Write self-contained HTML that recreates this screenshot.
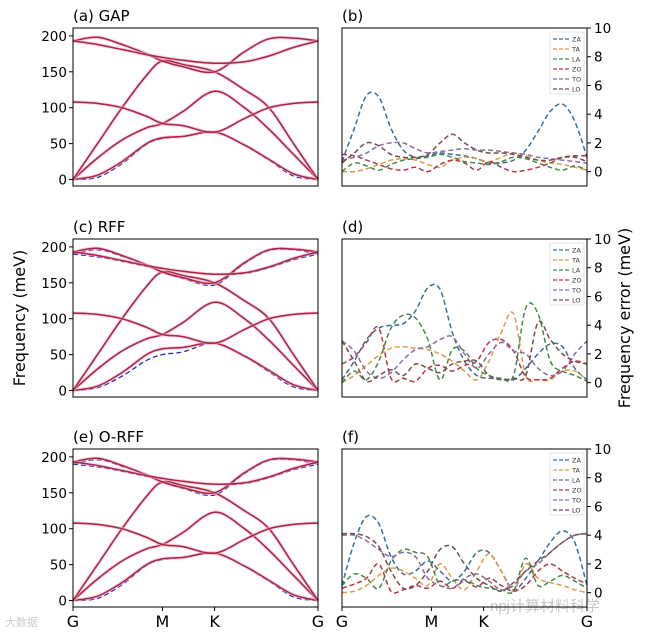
<!DOCTYPE html>
<html><head><meta charset="utf-8">
<style>
html,body{margin:0;padding:0;background:#fff;}
svg{display:block;font-family:"DejaVu Sans","Liberation Sans",sans-serif;}
</style></head>
<body>
<svg id="fig" width="647" height="635" viewBox="0 0 647 635" xmlns="http://www.w3.org/2000/svg">
<text x="25" y="318" font-size="16" text-anchor="middle" transform="rotate(-90 25 318)">Frequency (meV)</text>
<text x="630" y="318" font-size="16" text-anchor="middle" transform="rotate(-90 630 318)">Frequency error (meV)</text>
<text x="490" y="611" font-size="15" fill="#bbb" opacity="0.8" font-family="Liberation Sans, Noto Sans CJK SC, sans-serif">npj计算材料科学</text>
<text x="5" y="626" font-size="11" fill="#ccc" font-family="Liberation Sans, Noto Sans CJK SC, sans-serif">大数据</text>
</svg>
<script>
// ---------- data ----------
const pathLabels = ["G","M","K","G"];
const pathTicks = [0, 0.365, 0.578, 1];
const bandT = [0,0.1,0.2,0.3,0.365,0.45,0.578,0.7,0.8,0.9,1];
const bandZA = [0,6,25,50,58,60,66,48,28,8,0];
const bandTA = [0,30,55,72,78,95,123,100,70,35,0];
const bandLA = [0,50,100,145,165,160,150,125,100,50,0];
const bandZO = [108,106,100,88,78,75,66,85,100,106,108];
const bandTO = [193,198,188,175,165,157,150,178,196,197,193];
const bandLO = [193,188,181,174,170,166,162,164,172,184,193];
const refZA = [0,3,22,49,57,60,66,48,27,5,0];
const refZA_c = [0,4,20,42,50,54,66,48,26,5,0];
const refTO_c = [190,196,187,175,165,156,147,177,195,196,190];
const refLO_c = [190,186,180,173,170,166,162,163,171,182,190];
const freqTicks = [0,50,100,150,200];
const errTicks = [0,2,4,6,8,10];
const errT = [0,0.05,0.1,0.15,0.2,0.25,0.3,0.35,0.4,0.45,0.5,0.55,0.6,0.65,0.7,0.75,0.8,0.85,0.9,0.95,1];
const modes = ["ZA","TA","LA","ZO","TO","LO"];
const bErrZA = [0.7,3,5.3,5.2,3,1.5,1.0,1.1,1.3,1.2,1.1,0.9,0.6,0.6,0.8,1.5,2.8,4.2,4.7,3.5,1.0];
const bErrTA = [0,0,0.2,0.5,0.8,0.9,0.8,0.5,0.3,0.8,1.0,0.9,0.7,1.0,1.3,1.1,0.8,0.6,0.5,0.3,0.1];
const bErrLA = [0,0.6,0.4,0.1,0.5,0.8,0.9,1.0,1.2,1.0,0.7,0.6,0.5,0.7,1.0,0.9,0.6,0.3,0.1,0.4,0.1];
const bErrZO = [1.2,1.1,0.8,0.5,0.2,0.1,0.3,0.0,0.5,0.8,0.6,0.1,0.7,0.3,0.0,0.1,0.3,0.6,1.0,1.1,1.1];
const bErrTO = [0.8,1.0,1.3,1.8,2.0,2.0,1.6,1.3,1.4,1.5,1.6,1.5,1.5,1.4,1.3,1.2,1.0,0.9,0.8,0.7,0.6];
const bErrLO = [0.6,1.3,2.0,1.8,1.2,1.0,1.0,1.2,2.0,2.6,2.0,1.5,1.3,1.3,1.2,1.0,0.8,0.8,1.0,1.0,0.7];
const dErrZA = [0.2,1.5,3.0,3.8,4.0,4.1,5.0,6.6,6.5,3.5,1.5,0.5,0.3,0.3,0.2,1.0,2.0,2.7,2.5,1.0,0.2];
const dErrTA = [0,0.5,1.2,1.9,2.4,2.5,2.4,2.3,2.0,1.5,0.8,0.2,1.5,3.5,4.8,0.5,0.2,0.2,0.8,0.8,0.2];
const dErrLA = [0,0.8,0.2,1.5,3.8,4.7,4.5,3.0,0.2,2.3,2.2,1.0,0.5,0.3,0.5,5.2,4.8,1.5,0.8,0.5,0.1];
const dErrZO = [1.3,1.8,2.8,3.8,0.3,0.3,0.1,1.0,1.2,0.8,1.2,1.5,2.8,3.0,2.2,0.4,0.2,0.3,1.0,1.5,1.3];
const dErrTO = [2.9,2.2,0.8,0.3,0.7,1.6,2.3,2.5,3.0,3.2,2.0,1.0,2.0,2.8,2.2,2.0,1.0,0.5,0.8,2.0,2.9];
const dErrLO = [2.9,1.5,0.1,0.5,0.9,0.5,1.3,1.0,0.7,1.3,1.5,1.5,0.5,0.2,0.3,0.5,4.2,3.0,2.0,1.5,1.3];
const fErrZA = [0.5,3.5,5.3,4.8,2.5,1.3,1.5,2.2,1.5,0.8,1.5,2.8,2.8,1.5,0.2,1.0,2.2,3.5,4.3,3.5,0.5];
const fErrTA = [0,0.1,0.5,1.2,1.7,1.5,1.0,0.5,2.0,1.0,0.2,1.5,2.7,1.5,0.1,2.0,1.0,0.7,0.5,0.2,0];
const fErrLA = [0.5,1.3,1.0,0.3,2.2,3.0,2.8,2.5,0.5,0.8,0.9,0.5,0.3,0.2,0.1,2.4,0.5,0.8,1.2,0.8,0.3];
const fErrZO = [0.3,0.6,1.0,2.0,0.1,0.2,0.5,0.3,0.8,0.3,0.8,0.4,1.0,0.5,0.1,0.5,1.5,2.0,1.5,1.0,0.6];
const fErrTO = [4.0,4.0,3.6,3.0,2.5,2.8,2.5,1.0,0.5,0.3,1.0,1.3,0.8,0.2,0.5,1.5,2.0,2.8,3.5,4.0,4.1];
const fErrLO = [4.1,4.1,3.9,3.2,1.5,0.3,0.5,1.5,3.0,3.2,2.0,1.0,0.5,0.1,0.7,1.5,2.2,2.8,3.5,4.0,4.1];
const modeColors = ["#3a6e93","#e09a48","#47874a","#ad3a48","#8a6da3","#74504a"];

// ---------- drawing ----------
const NS = "http://www.w3.org/2000/svg";
const svg = document.getElementById("fig");
function mk(tag, attrs, parent){ const e=document.createElementNS(NS,tag); for(const k in attrs) e.setAttribute(k,attrs[k]); (parent||svg).appendChild(e); return e; }
function smoothPath(pts){
  let d="M"+pts[0][0].toFixed(1)+","+pts[0][1].toFixed(1);
  for(let i=0;i<pts.length-1;i++){
    const p0=pts[Math.max(0,i-1)],p1=pts[i],p2=pts[i+1],p3=pts[Math.min(pts.length-1,i+2)];
    const c1=[p1[0]+(p2[0]-p0[0])/6,p1[1]+(p2[1]-p0[1])/6];
    const c2=[p2[0]-(p3[0]-p1[0])/6,p2[1]-(p3[1]-p1[1])/6];
    d+="C"+c1[0].toFixed(1)+","+c1[1].toFixed(1)+" "+c2[0].toFixed(1)+","+c2[1].toFixed(1)+" "+p2[0].toFixed(1)+","+p2[1].toFixed(1);
  }
  return d;
}
const rowTops=[28,239,449];
const panelH=158;
const L={x0:73,x1:318}, R={x0:342,x1:587};
const letters=[["(a) GAP","(b)"],["(c) RFF","(d)"],["(e) O-RFF","(f)"]];
const errSets=[[bErrZA,bErrTA,bErrLA,bErrZO,bErrTO,bErrLO],[dErrZA,dErrTA,dErrLA,dErrZO,dErrTO,dErrLO],[fErrZA,fErrTA,fErrLA,fErrZO,fErrTO,fErrLO]];
const predBands=[bandZA,bandTA,bandLA,bandZO,bandTO,bandLO];

rowTops.forEach((top,ri)=>{
  const bot=top+panelH;
  const fy=v=> top + (211 - v)/220*panelH;
  const lx=t=> L.x0 + t*(L.x1-L.x0);
  const g=mk("g",{});
  
  
  const refs=[ri===1?refZA_c:refZA,bandTA,bandLA,bandZO,ri===0?bandTO:refTO_c,ri===0?bandLO:refLO_c];
  refs.forEach((arr,bi)=>{
    const p=mk("path",{d:smoothPath(bandT.map((t,i)=>[lx(t),fy(arr[i])])),fill:"none",stroke:"#2a2ab0","stroke-width":1.3,"stroke-dasharray":"5,3"},g);
    
    
  });
  predBands.forEach((arr,bi)=>{
    const d=smoothPath(bandT.map((t,i)=>[lx(t),fy(arr[i])]));
    mk("path",{d:d,fill:"none",stroke:"#f4b0c0","stroke-width":3.5,opacity:0.55},g);
    const p=mk("path",{d:d,fill:"none",stroke:"#a82448","stroke-width":1.5},g);
    
    
  });
  const fr=mk("rect",{x:L.x0,y:top,width:L.x1-L.x0,height:panelH,fill:"none",stroke:"#000","stroke-width":1});
  
  
  freqTicks.forEach(v=>{
    mk("line",{x1:L.x0-4,x2:L.x0,y1:fy(v),y2:fy(v),stroke:"#000"});
    const t=mk("text",{x:L.x0-6,y:fy(v)+5,"font-size":13.5,"text-anchor":"end"}); t.textContent=v;
    
    
  });
  const ttl=mk("text",{x:L.x0,y:top-7,"font-size":15}); ttl.textContent=letters[ri][0];
  
  

  const ey=v=> top + (10 - v)/11*panelH;
  const rx=t=> R.x0 + t*(R.x1-R.x0);
  errSets[ri].forEach((arr,mi)=>{
    const p=mk("path",{d:smoothPath(errT.map((t,i)=>[rx(t),ey(arr[i])])),fill:"none",stroke:modeColors[mi],"stroke-width":1.5,"stroke-dasharray":"5,3"});
    
    
  });
  const er=mk("rect",{x:R.x0,y:top,width:R.x1-R.x0,height:panelH,fill:"none",stroke:"#000","stroke-width":1});
  
  
  errTicks.forEach(v=>{
    mk("line",{x1:R.x1,x2:R.x1+4,y1:ey(v),y2:ey(v),stroke:"#000"});
    const t=mk("text",{x:R.x1+7,y:ey(v)+5,"font-size":13.5}); t.textContent=v;
    
    
  });
  const t2=mk("text",{x:R.x0,y:top-7,"font-size":15}); t2.textContent=letters[ri][1];
  
  
  const lg=mk("g",{});
  
  
  mk("rect",{x:550,y:top+4,width:34,height:62,fill:"#fff",stroke:"#ddd","stroke-width":0.8,rx:1.5},lg);
  modes.forEach((m,mi)=>{
    const yy=top+11+mi*10;
    mk("line",{x1:553,x2:569,y1:yy,y2:yy,stroke:modeColors[mi],"stroke-width":1.3,"stroke-dasharray":"4,2"},lg);
    const t=mk("text",{x:572,y:yy+2.5,"font-size":6.5,fill:"#333"},lg); t.textContent=m;
    
    
  });
  if(ri===2){
    pathTicks.forEach((tv,i)=>{
      [lx(tv),rx(tv)].forEach(x=>{
        mk("line",{x1:x,x2:x,y1:bot,y2:bot+4,stroke:"#000"});
        const t=mk("text",{x:x,y:bot+20,"font-size":16,"text-anchor":"middle"}); t.textContent=pathLabels[i];
        
        
      });
    });
  }
});
</script>
</body></html>
